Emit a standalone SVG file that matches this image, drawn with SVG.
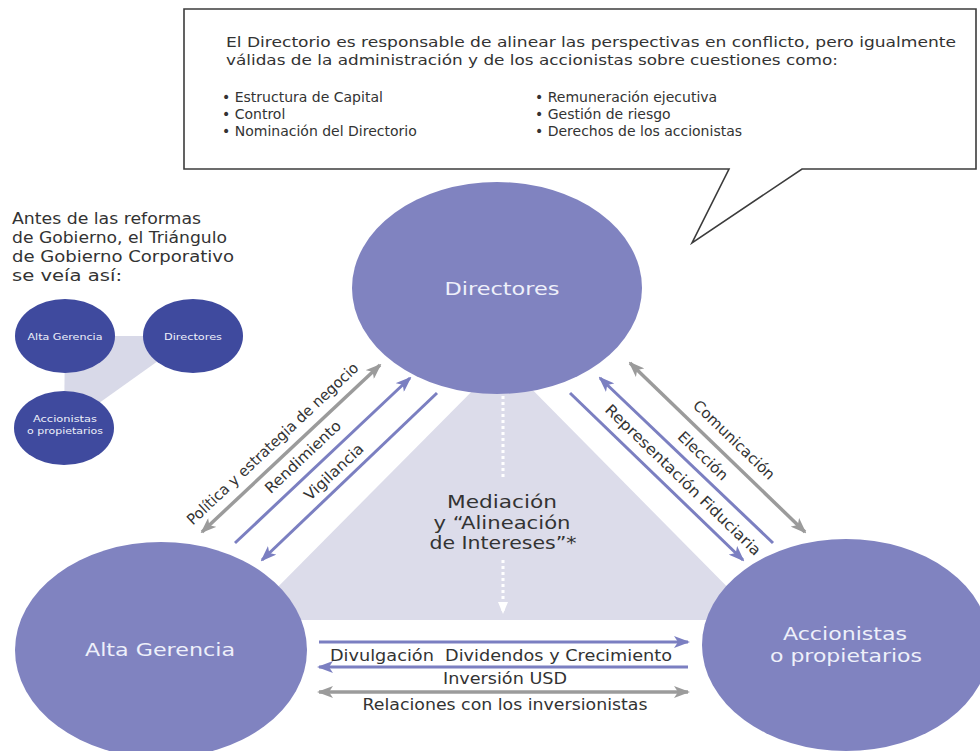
<svg xmlns="http://www.w3.org/2000/svg" width="980" height="751" viewBox="0 0 980 751">
<style>
  .t{font-family:"DejaVu Sans","Liberation Sans",sans-serif;fill:#333}
  .w{font-family:"DejaVu Sans","Liberation Sans",sans-serif;fill:#eef0fa}
  .big{fill:#8083c0}
  .small{fill:#3f4a9e}
  .gray{stroke:#9b9b9b;stroke-width:3.5;fill:none}
  .pur{stroke:#7b7fc1;stroke-width:3;fill:none}
</style>
<defs>
  <marker id="hg" viewBox="0 0 16 12" refX="14" refY="6" markerWidth="16" markerHeight="12" markerUnits="userSpaceOnUse" orient="auto-start-reverse">
    <path d="M0,0 L16,6 L0,12 L4,6 z" fill="#9b9b9b"/>
  </marker>
  <marker id="hp" viewBox="0 0 16 12" refX="14" refY="6" markerWidth="16" markerHeight="12" markerUnits="userSpaceOnUse" orient="auto-start-reverse">
    <path d="M0,0 L16,6 L0,12 L4,6 z" fill="#7b7fc1"/>
  </marker>
  <marker id="hw" viewBox="0 0 12 10" refX="10" refY="5" markerWidth="12" markerHeight="10" markerUnits="userSpaceOnUse" orient="auto">
    <path d="M0,0 L12,5 L0,10 z" fill="#ffffff"/>
  </marker>
</defs>
<rect width="980" height="751" fill="#ffffff"/>

<g id="callout">
  <path d="M184,9 H976 V169 H802 L692,243 L729,169 H184 Z" fill="#ffffff" stroke="#3c3c3c" stroke-width="1.6"/>
  <text class="t" font-size="14" x="226" y="47" textLength="730" lengthAdjust="spacingAndGlyphs">El Directorio es responsable de alinear las perspectivas en conflicto, pero igualmente</text>
  <text class="t" font-size="14" x="226" y="65" textLength="612" lengthAdjust="spacingAndGlyphs">válidas de la administración y de los accionistas sobre cuestiones como:</text>
  <text class="t" font-size="14" x="222" y="102">• Estructura de Capital</text>
  <text class="t" font-size="14" x="222" y="119">• Control</text>
  <text class="t" font-size="14" x="222" y="136">• Nominación del Directorio</text>
  <text class="t" font-size="14" x="535" y="102">• Remuneración ejecutiva</text>
  <text class="t" font-size="14" x="535" y="119">• Gestión de riesgo</text>
  <text class="t" font-size="14" x="535" y="136">• Derechos de los accionistas</text>
</g>

<g id="before-note">
  <text class="t" font-size="16" x="12" y="224" textLength="189" lengthAdjust="spacingAndGlyphs">Antes de las reformas</text>
  <text class="t" font-size="16" x="12" y="243" textLength="215" lengthAdjust="spacingAndGlyphs">de Gobierno, el Triángulo</text>
  <text class="t" font-size="16" x="12" y="262" textLength="222" lengthAdjust="spacingAndGlyphs">de Gobierno Corporativo</text>
  <text class="t" font-size="16" x="12" y="281" textLength="110" lengthAdjust="spacingAndGlyphs">se veía así:</text>
</g>

<g id="small-triangle">
  <polygon points="65,336 193,336 64,428" fill="#d8d9e8"/>
</g>
<g id="small-alta">
  <ellipse class="small" cx="65" cy="336" rx="50" ry="37"/>
  <text class="w" font-size="9.5" x="65" y="339.5" text-anchor="middle" textLength="75" lengthAdjust="spacingAndGlyphs">Alta Gerencia</text>
</g>
<g id="small-directores">
  <ellipse class="small" cx="193" cy="336" rx="50" ry="37"/>
  <text class="w" font-size="9.5" x="193" y="339.5" text-anchor="middle" textLength="58" lengthAdjust="spacingAndGlyphs">Directores</text>
</g>
<g id="small-accionistas">
  <ellipse class="small" cx="64" cy="428" rx="50" ry="37"/>
  <text class="w" font-size="9.5" x="65" y="421.5" text-anchor="middle" textLength="64" lengthAdjust="spacingAndGlyphs">Accionistas</text>
  <text class="w" font-size="9.5" x="65" y="434" text-anchor="middle" textLength="76" lengthAdjust="spacingAndGlyphs">o propietarios</text>
</g>

<g id="mediation-area">
  <polygon points="503,360 245,620 760,620" fill="#dcdcea"/>
  <text class="t" font-size="17" x="502" y="508" text-anchor="middle" textLength="110" lengthAdjust="spacingAndGlyphs">Mediación</text>
  <text class="t" font-size="17" x="502" y="529" text-anchor="middle" textLength="137" lengthAdjust="spacingAndGlyphs">y “Alineación</text>
  <text class="t" font-size="17" x="503" y="549" text-anchor="middle" textLength="147" lengthAdjust="spacingAndGlyphs">de Intereses”*</text>
</g>

<g id="directores">
  <ellipse class="big" cx="497" cy="288" rx="145" ry="106"/>
  <text class="w" font-size="18" x="502" y="295" text-anchor="middle" textLength="115" lengthAdjust="spacingAndGlyphs">Directores</text>
</g>
<g id="alta-gerencia">
  <ellipse class="big" cx="161" cy="650" rx="146" ry="108"/>
  <text class="w" font-size="18" x="160" y="656" text-anchor="middle" textLength="150" lengthAdjust="spacingAndGlyphs">Alta Gerencia</text>
</g>
<g id="accionistas">
  <ellipse class="big" cx="846" cy="645" rx="144" ry="106"/>
  <text class="w" font-size="18" x="845" y="640" text-anchor="middle" textLength="124" lengthAdjust="spacingAndGlyphs">Accionistas</text>
  <text class="w" font-size="18" x="846" y="662" text-anchor="middle" textLength="152" lengthAdjust="spacingAndGlyphs">o propietarios</text>
</g>

<g id="connectors">
  <line class="gray" x1="202" y1="532" x2="380" y2="365" marker-start="url(#hg)" marker-end="url(#hg)"/>
  <line class="pur" x1="235" y1="543" x2="410" y2="378" marker-end="url(#hp)"/>
  <line class="pur" x1="437" y1="393" x2="262" y2="560" marker-end="url(#hp)"/>

  <line class="gray" x1="630" y1="363" x2="805" y2="532" marker-start="url(#hg)" marker-end="url(#hg)"/>
  <line class="pur" x1="773" y1="543" x2="600" y2="378" marker-end="url(#hp)"/>
  <line class="pur" x1="570" y1="393" x2="743" y2="560" marker-end="url(#hp)"/>

  <line class="pur" x1="319" y1="642" x2="688" y2="642" marker-end="url(#hp)"/>
  <line class="pur" x1="688" y1="667" x2="319" y2="667" marker-end="url(#hp)"/>
  <line class="gray" x1="319" y1="692" x2="688" y2="692" marker-start="url(#hg)" marker-end="url(#hg)"/>

  <line x1="503" y1="396" x2="503" y2="478" stroke="#ffffff" stroke-width="3" stroke-dasharray="3,3"/>
  <line x1="503" y1="560" x2="503" y2="612" stroke="#ffffff" stroke-width="3" stroke-dasharray="3,3" marker-end="url(#hw)"/>

  <text class="t" font-size="15" transform="translate(272.7,443.8) rotate(-43.2)" text-anchor="middle" dy="5" textLength="229" lengthAdjust="spacingAndGlyphs">Política y estrategia de negocio</text>
  <text class="t" font-size="15" transform="translate(303,457) rotate(-43.2)" text-anchor="middle" dy="5" textLength="98" lengthAdjust="spacingAndGlyphs">Rendimiento</text>
  <text class="t" font-size="15" transform="translate(334,472) rotate(-43.2)" text-anchor="middle" dy="5" textLength="75" lengthAdjust="spacingAndGlyphs">Vigilancia</text>

  <text class="t" font-size="15" transform="translate(734,440) rotate(44)" text-anchor="middle" dy="5" textLength="107" lengthAdjust="spacingAndGlyphs">Comunicación</text>
  <text class="t" font-size="15" transform="translate(703,456) rotate(44)" text-anchor="middle" dy="5" textLength="63" lengthAdjust="spacingAndGlyphs">Elección</text>
  <text class="t" font-size="15" transform="translate(683,480) rotate(44)" text-anchor="middle" dy="5" textLength="210" lengthAdjust="spacingAndGlyphs">Representación Fiduciaria</text>

  <text class="t" font-size="15" x="501" y="661" text-anchor="middle" textLength="342" lengthAdjust="spacingAndGlyphs" xml:space="preserve">Divulgación  Dividendos y Crecimiento</text>
  <text class="t" font-size="15" x="505" y="684" text-anchor="middle" textLength="124" lengthAdjust="spacingAndGlyphs">Inversión USD</text>
  <text class="t" font-size="15" x="505" y="710" text-anchor="middle" textLength="285" lengthAdjust="spacingAndGlyphs">Relaciones con los inversionistas</text>
</g>
</svg>
